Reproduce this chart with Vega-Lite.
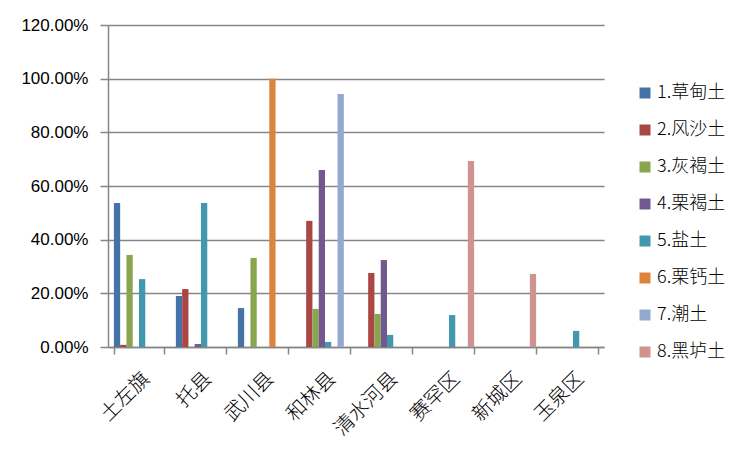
{
  "$schema": "https://vega.github.io/schema/vega-lite/v6.json",
  "width": 496,
  "height": 322,
  "autosize": {"type": "none"},
  "padding": {"left": 108, "top": 25, "right": 150, "bottom": 107},
  "background": "white",
  "config": {
    "view": {"stroke": null},
    "font": "Liberation Sans, Noto Sans CJK SC",
    "axis": {"labelColor": "#000000", "titleColor": "#000000"}
  },
  "data": {
    "values": [
      {"region": "土左旗", "soil": "1.草甸土", "value": 0.537},
      {"region": "土左旗", "soil": "2.风沙土", "value": 0.008},
      {"region": "土左旗", "soil": "3.灰褐土", "value": 0.343},
      {"region": "土左旗", "soil": "5.盐土", "value": 0.253},
      {"region": "托县", "soil": "1.草甸土", "value": 0.19},
      {"region": "托县", "soil": "2.风沙土", "value": 0.216},
      {"region": "托县", "soil": "4.栗褐土", "value": 0.011},
      {"region": "托县", "soil": "5.盐土", "value": 0.537},
      {"region": "武川县", "soil": "1.草甸土", "value": 0.145},
      {"region": "武川县", "soil": "3.灰褐土", "value": 0.332},
      {"region": "武川县", "soil": "6.栗钙土", "value": 1.0},
      {"region": "和林县", "soil": "2.风沙土", "value": 0.47},
      {"region": "和林县", "soil": "3.灰褐土", "value": 0.142},
      {"region": "和林县", "soil": "4.栗褐土", "value": 0.66},
      {"region": "和林县", "soil": "5.盐土", "value": 0.019},
      {"region": "和林县", "soil": "7.潮土", "value": 0.943},
      {"region": "清水河县", "soil": "2.风沙土", "value": 0.276},
      {"region": "清水河县", "soil": "3.灰褐土", "value": 0.123},
      {"region": "清水河县", "soil": "4.栗褐土", "value": 0.324},
      {"region": "清水河县", "soil": "5.盐土", "value": 0.045},
      {"region": "赛罕区", "soil": "5.盐土", "value": 0.119},
      {"region": "赛罕区", "soil": "8.黑垆土", "value": 0.693},
      {"region": "新城区", "soil": "8.黑垆土", "value": 0.272},
      {"region": "玉泉区", "soil": "5.盐土", "value": 0.06}
    ]
  },
  "mark": {"type": "bar"},
  "encoding": {
    "x": {
      "field": "region",
      "type": "nominal",
      "sort": ["土左旗", "托县", "武川县", "和林县", "清水河县", "赛罕区", "新城区", "玉泉区"],
      "scale": {"paddingInner": 0.19, "paddingOuter": 0.095},
      "axis": {
        "title": null,
        "labelAngle": -45,
        "labelFontSize": 20,
        "labelPadding": 14,
        "tickBand": "extent",
        "tickSize": 7,
        "tickColor": "#868686",
        "domainColor": "#868686",
        "domainWidth": 1.5,
        "tickWidth": 1.5,
        "labelFont": "Noto Sans CJK SC",
        "labelFontWeight": 300
      }
    },
    "xOffset": {
      "field": "soil",
      "type": "nominal",
      "scale": {"domain": ["1.草甸土", "2.风沙土", "3.灰褐土", "4.栗褐土", "5.盐土", "6.栗钙土", "7.潮土", "8.黑垆土"], "paddingInner": 0, "paddingOuter": 0}
    },
    "y": {
      "field": "value",
      "type": "quantitative",
      "scale": {"domain": [0, 1.2]},
      "axis": {
        "title": null,
        "values": [0, 0.2, 0.4, 0.6, 0.8, 1.0, 1.2],
        "format": ".2%",
        "labelFont": "Liberation Sans",
        "labelFontSize": 17,
        "labelPadding": 12,
        "tickSize": 8,
        "tickColor": "#868686",
        "tickWidth": 1.5,
        "gridColor": "#868686",
        "gridWidth": 1.5,
        "gridOpacity": 1,
        "domainColor": "#868686",
        "domainWidth": 1.5
      }
    },
    "color": {
      "field": "soil",
      "type": "nominal",
      "scale": {
        "domain": ["1.草甸土", "2.风沙土", "3.灰褐土", "4.栗褐土", "5.盐土", "6.栗钙土", "7.潮土", "8.黑垆土"],
        "range": ["#4572A7", "#AA4643", "#89A54E", "#71588F", "#4198AF", "#DB843D", "#93A9CF", "#D19392"]
      },
      "legend": {
        "title": null,
        "orient": "none",
        "legendX": 528,
        "legendY": 59,
        "symbolType": "square",
        "symbolSize": 121,
        "symbolStrokeWidth": 0,
        "labelFontSize": 18,
        "labelFont": "Noto Sans CJK SC",
        "labelFontWeight": 300,
        "labelColor": "#000000",
        "rowPadding": 19,
        "labelOffset": 3
      }
    }
  }
}
